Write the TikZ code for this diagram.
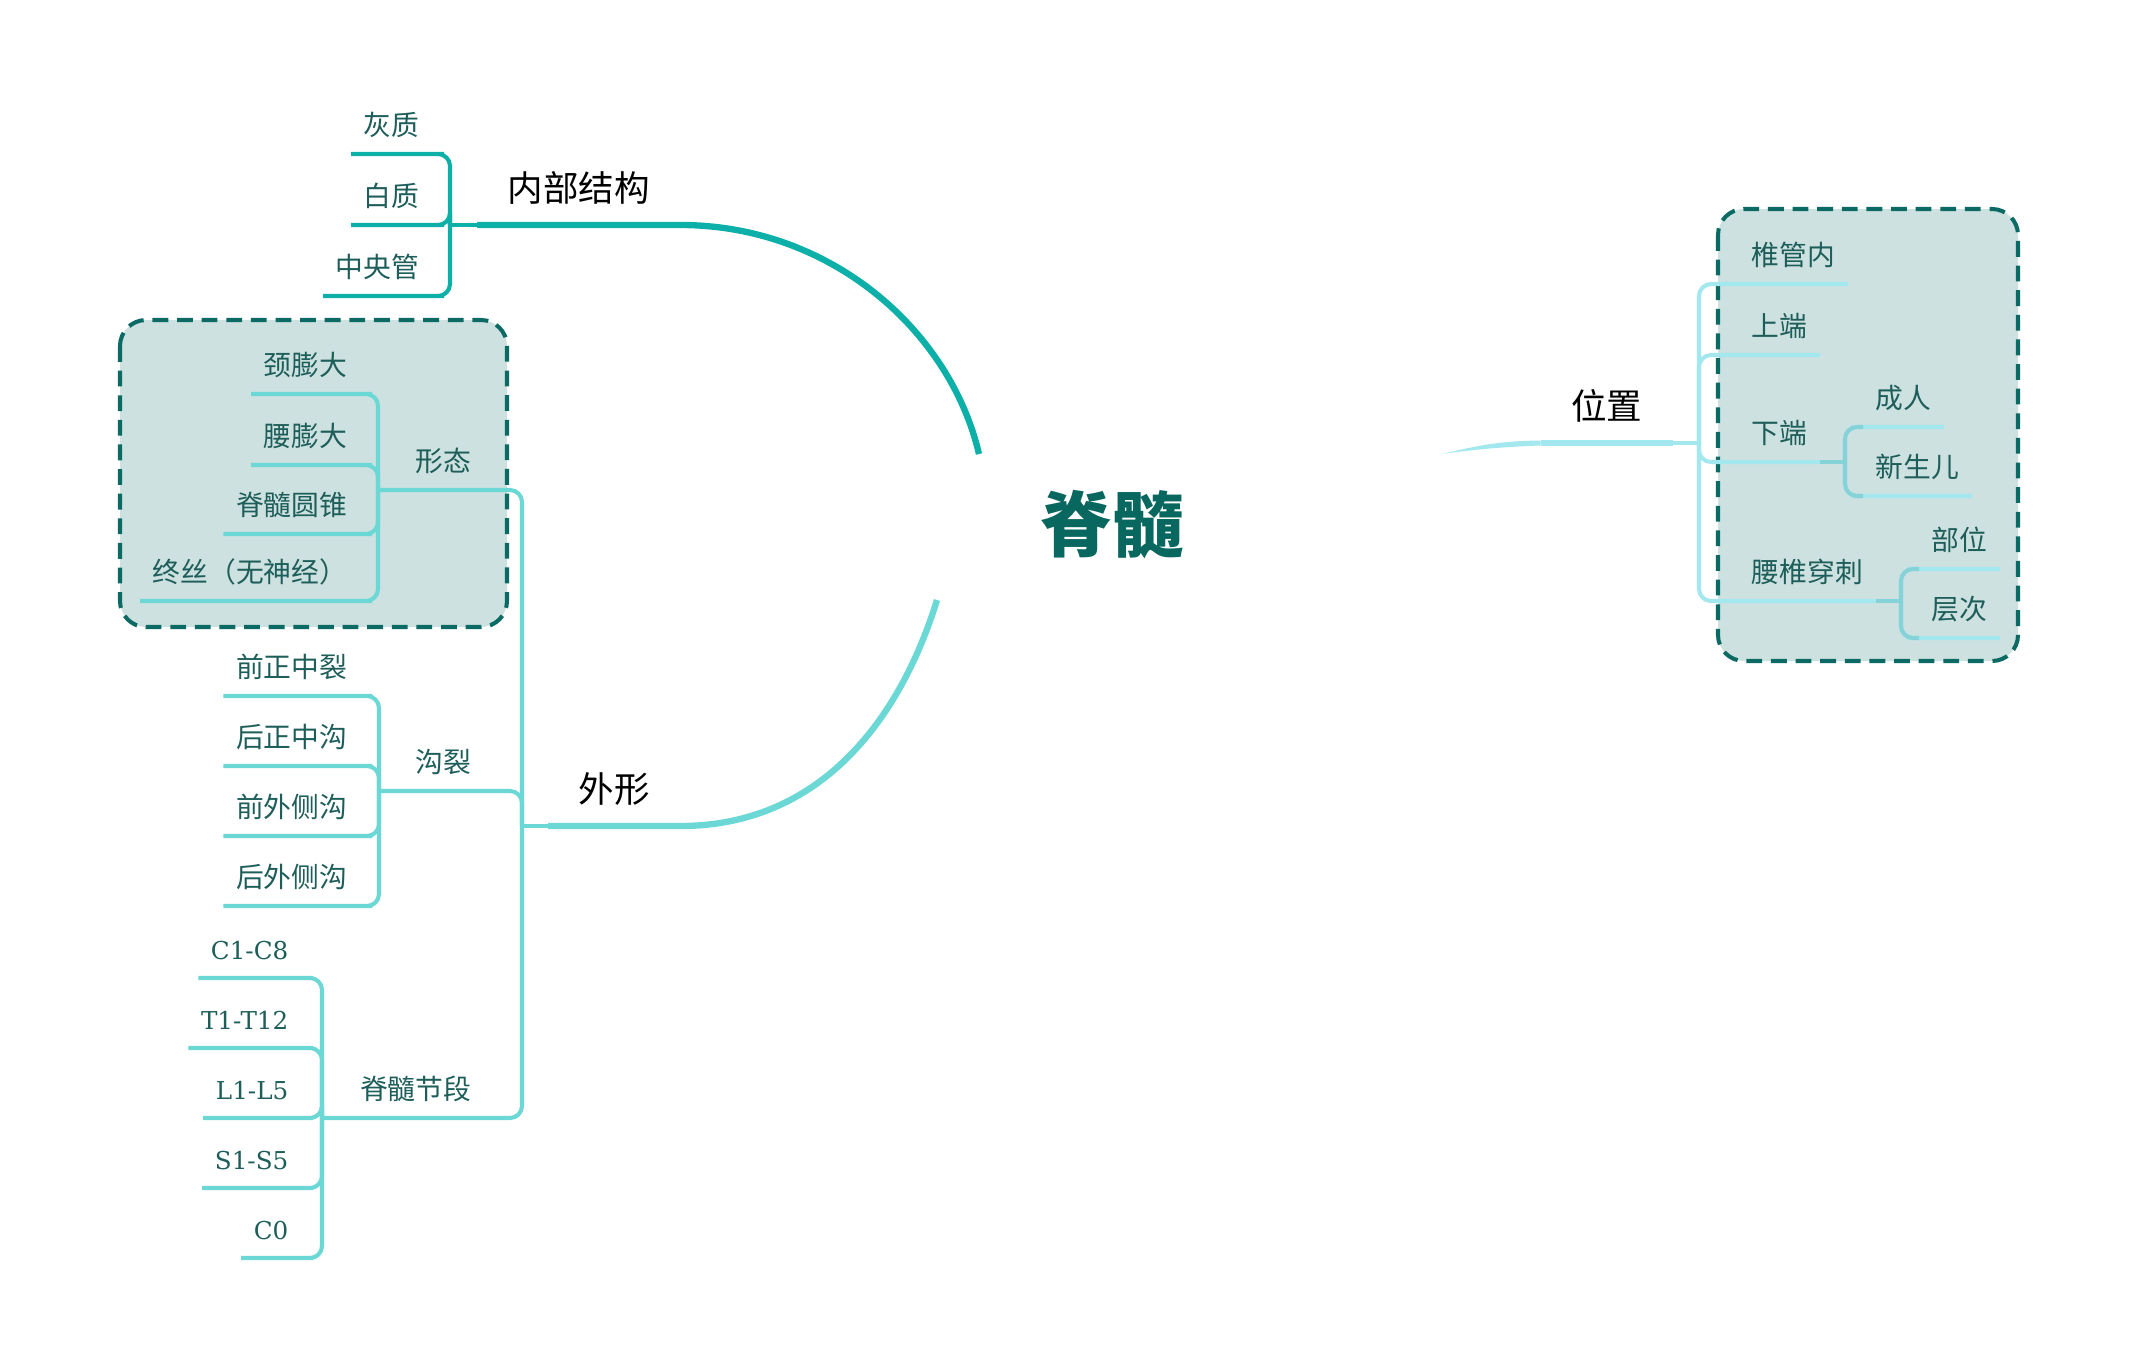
\documentclass[tikz,border=0pt]{standalone}
\usepackage{fontspec}
\newfontfamily\cjk{Noto Sans CJK SC}
\newfontfamily\slab{DejaVu Serif}
\definecolor{inktext}{HTML}{1E5E5A}
\definecolor{hubink}{HTML}{08675F}
\definecolor{tealA}{HTML}{0DB0A9}
\definecolor{tealB}{HTML}{6BD8D5}
\definecolor{cyanC}{HTML}{A3E8EE}
\definecolor{cyanD}{HTML}{85D3D8}
\definecolor{boxfill}{HTML}{CDE1E0}
\definecolor{boxline}{HTML}{0B6A64}
\tikzset{
  leaf/.style={font=\cjk\fontsize{7.9}{9}\selectfont,text=inktext,inner xsep=0.12cm,inner ysep=0.14cm,text height=0.22cm,text depth=0.04cm},
  leafL/.style={leaf,anchor=south east},
  leafR/.style={leaf,anchor=south west},
  seg/.style={leafL,font=\slab\fontsize{7}{9}\selectfont},
  topic/.style={font=\cjk\fontsize{10.1}{12}\selectfont,text=black,inner xsep=0.3cm,inner ysep=0.18cm,text height=0.28cm,text depth=0.05cm},
  hubtext/.style={font=\cjk\bfseries\fontsize{20.3}{24}\selectfont,text=hubink},
  frame/.style={draw=boxline,fill=boxfill,line width=1.15pt,dash pattern=on 4.5pt off 2.5pt,rounded corners=0.26cm},
  link/.style={line width=1.15pt,rounded corners=0.12cm},
  main/.style={line width=1.8pt},
}
\begin{document}
\begin{tikzpicture}[x=0.01cm,y=-0.01cm]
  \useasboundingbox[fill=white] (0,0) rectangle (2138,1360);
  % dashed groups
  \draw[frame] (120,320) rectangle (507,627);
  \draw[frame] (1718,209) rectangle (2018,661);

  % centre
  \node[hubtext] (jisui) at (1112,525) {脊髓};
  \coordinate (endNB) at (979,454);
  \coordinate (endWX) at (937,600);
  \coordinate (endWZ) at (1442,454);

  % 内部结构
  \node[topic,anchor=south west] (neibu) at (477,225) {内部结构};
  \node[leafL] (huizhi) at (432,154) {灰质};
  \node[leafL] (baizhi) at (432,225) {白质};
  \node[leafL] (zhongyang) at (432,296) {中央管};
  \coordinate (nbJ) at (450,225);
  \draw[link,tealA] (huizhi.south west) -- (huizhi.south east) -| (nbJ);
  \draw[link,tealA] (baizhi.south west) -- (baizhi.south east) -| (nbJ);
  \draw[link,tealA] (zhongyang.south west) -- (zhongyang.south east) -| (nbJ);
  \draw[link,tealA] (nbJ) -- (neibu.south west);
  \draw[main,tealA] (neibu.south west) -- (neibu.south east)
    .. controls (830,225) and (950,330) .. (endNB);

  % 外形
  \node[topic,anchor=south west] (waixing) at (548,826) {外形};
  \coordinate (wxJ) at (522,826);
  \draw[main,tealB] (waixing.south west) -- (waixing.south east)
    .. controls (820,826) and (900,720) .. (endWX);
  \draw[link,tealB] (wxJ) -- (waixing.south west);

  \node[leafL] (xingtai) at (484,490) {形态};
  \node[leafL] (jingpeng) at (360,394) {颈膨大};
  \node[leafL] (yaopeng) at (360,465) {腰膨大};
  \node[leafL] (yuanzhui) at (360,534) {脊髓圆锥};
  \node[leafL] (zhongsi) at (360,601) {终丝（无神经）};
  \coordinate (xtJ) at (378,490);
  \foreach \n in {jingpeng,yaopeng,yuanzhui,zhongsi}
    \draw[link,tealB] (\n.south west) -- (\n.south east) -| (xtJ);
  \draw[link,tealB] (xtJ) -- (xingtai.south west) -- (xingtai.south east) -| (wxJ);

  \node[leafL] (gouli) at (484,791) {沟裂};
  \node[leafL] (qianzheng) at (360,696) {前正中裂};
  \node[leafL] (houzheng) at (360,766) {后正中沟};
  \node[leafL] (qianwai) at (360,836) {前外侧沟};
  \node[leafL] (houwai) at (360,906) {后外侧沟};
  \coordinate (glJ) at (379,791);
  \foreach \n in {qianzheng,houzheng,qianwai,houwai}
    \draw[link,tealB] (\n.south west) -- (\n.south east) -| (glJ);
  \draw[link,tealB] (glJ) -- (gouli.south west) -- (gouli.south east) -| (wxJ);

  \node[leafL] (jieduan) at (484,1118) {脊髓节段};
  \node[seg] (segC) at (301,978) {C1-C8};
  \node[seg] (segT) at (301,1048) {T1-T12};
  \node[seg] (segL) at (301,1118) {L1-L5};
  \node[seg] (segS) at (301,1188) {S1-S5};
  \node[seg] (segCo) at (301,1258) {C0};
  \coordinate (jdJ) at (322,1118);
  \foreach \n in {segC,segT,segL,segS,segCo}
    \draw[link,tealB] (\n.south west) -- (\n.south east) -| (jdJ);
  \draw[link,tealB] (jdJ) -- (jieduan.south west) -- (jieduan.south east) -| (wxJ);

  % 位置
  \node[topic,anchor=south east] (weizhi) at (1673,443) {位置};
  \coordinate (wzJ) at (1699,443);
  \fill[cyanC] (endWZ) .. controls (1480,445) and (1500,441) .. ([yshift=0.025cm]weizhi.south west)
    -- ([yshift=-0.025cm]weizhi.south west) .. controls (1500,447) and (1470,450) .. (endWZ) -- cycle;
  \draw[main,cyanC,line width=1.45pt] (weizhi.south west) -- (weizhi.south east);
  \draw[link,cyanC] (weizhi.south east) -- (wzJ);

  \node[leafR] (zhuiguan) at (1739,284) {椎管内};
  \node[leafR] (shangduan) at (1739,355) {上端};
  \node[leafR] (xiaduan) at (1739,462) {下端};
  \node[leafR] (yaozhui) at (1739,601) {腰椎穿刺};
  \foreach \n in {zhuiguan,shangduan,xiaduan,yaozhui}
    \draw[link,cyanC] (\n.south east) -- (\n.south west) -| (wzJ);

  \node[leafR] (chengren) at (1863,427) {成人};
  \node[leafR] (xinsheng) at (1863,496) {新生儿};
  \coordinate (xdJ) at (1845,462);
  \foreach \n in {chengren,xinsheng}
    \draw[link,cyanC] (\n.south east) -- (\n.south west) -| (xdJ);
  \draw[link,cyanD] (chengren.south west) -| (xdJ);
  \draw[link,cyanD] (xinsheng.south west) -| (xdJ);
  \draw[link,cyanD] (xdJ) -- (xiaduan.south east);

  \node[leafR] (buwei) at (1919,569) {部位};
  \node[leafR] (cengci) at (1919,638) {层次};
  \coordinate (yzJ) at (1901,601);
  \foreach \n in {buwei,cengci}
    \draw[link,cyanC] (\n.south east) -- (\n.south west) -| (yzJ);
  \draw[link,cyanD] (buwei.south west) -| (yzJ);
  \draw[link,cyanD] (cengci.south west) -| (yzJ);
  \draw[link,cyanD] (yzJ) -- (yaozhui.south east);
\end{tikzpicture}
\end{document}
